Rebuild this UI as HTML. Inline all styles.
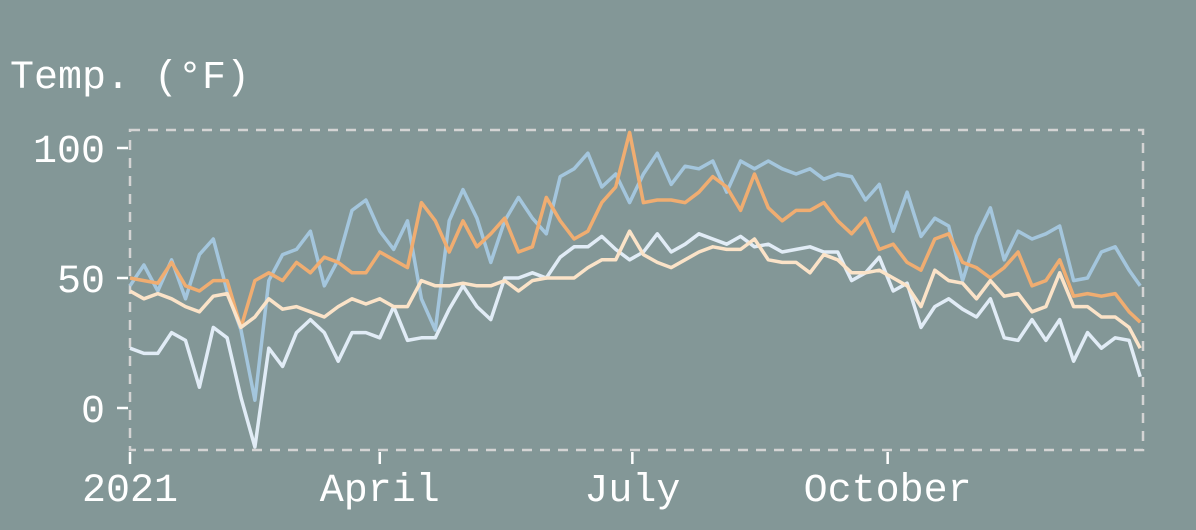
<!DOCTYPE html>
<html><head><meta charset="utf-8"><style>
body{margin:0;background:#839797;width:1196px;height:530px;overflow:hidden}
svg{display:block}
text{font-family:"Liberation Mono","DejaVu Sans Mono",monospace;fill:#fff}
</style></head><body>
<svg id="chart" width="1196" height="530" viewBox="0 0 1196 530"></svg>
<script>
const days=[0,5,10,15,20,25,30,35,40,45,50,55,60,65,70,75,80,85,90,95,100,105,110,115,120,125,130,135,140,145,150,155,160,165,170,175,180,185,190,195,200,205,210,215,220,225,230,235,240,245,250,255,260,265,270,275,280,285,290,295,300,305,310,315,320,325,330,335,340,345,350,355,360,364];
const highValues=[47,55,45,57,42,59,65,45,30,3,49,59,61,68,47,57,76,80,68,61,72,42,30,72,84,73,56,72,81,73,67,89,92,98,85,90,79,90,98,86,93,92,95,83,95,92,95,92,90,92,88,90,89,80,86,68,83,66,73,70,49,66,77,57,68,65,67,70,49,50,60,62,53,47];
const orangeValues=[50,49,48,56,47,45,49,49,31,49,52,49,56,52,58,56,52,52,60,57,54,79,72,60,72,62,67,73,60,62,81,72,65,68,79,85,106,79,80,80,79,83,89,85,76,90,77,72,76,76,79,72,67,73,61,63,56,53,65,67,56,54,50,54,60,47,49,57,43,44,43,44,37,33];
const creamValues=[45,42,44,42,39,37,43,44,31,35,42,38,39,37,35,39,42,40,42,39,39,49,47,47,48,47,47,49,45,49,50,50,50,54,57,57,68,59,56,54,57,60,62,61,61,65,57,56,56,52,59,57,52,52,53,50,47,39,53,49,48,42,49,43,44,37,39,52,39,39,35,35,31,23];
const lowValues=[23,21,21,29,26,8,31,27,4,-15,23,16,29,34,29,18,29,29,27,39,26,27,27,38,47,39,34,50,50,52,50,58,62,62,66,61,57,60,67,60,63,67,65,63,66,62,63,60,61,62,60,60,49,52,58,45,48,31,39,42,38,35,42,27,26,34,26,34,18,29,23,27,26,12];
const yTicks=[0,50,100];
const xTickDays=[0,90,181,273];
const xTickLabels=["2021","April","July","October"];

const svg=document.getElementById('chart');
const NS='http://www.w3.org/2000/svg';
const X0=130,X1=1143,Y0=130,Y1=450;
const x=d=>X0+d*(X1-X0)/365;
const y=v=>408-v*2.6;
function mk(t,a){const e=document.createElementNS(NS,t);for(const k in a)e.setAttribute(k,a[k]);svg.appendChild(e);return e;}

const frame=mk('rect',{x:X0,y:Y0,width:X1-X0,height:Y1-Y0,fill:'none',stroke:'#d4d4d4','stroke-width':2.5,'stroke-dasharray':'10 8'});



const title=mk('text',{x:10,y:88,'font-size':40});
title.textContent='Temp. (°F)';



yTicks.forEach(v=>{
  const t=mk('line',{x1:117,x2:128,y1:y(v),y2:y(v),stroke:'#fff','stroke-width':2.5});
  
  
  const l=mk('text',{x:105,y:y(v)+14,'font-size':40,'text-anchor':'end'});
  l.textContent=v;
  
  
});
xTickDays.forEach((d,i)=>{
  const t=mk('line',{x1:x(d),x2:x(d),y1:452,y2:464,stroke:'#fff','stroke-width':2.5});
  
  
  const l=mk('text',{x:x(d),y:501,'font-size':40,'text-anchor':'middle'});
  l.textContent=xTickLabels[i];
  
  
});

const series=[[highValues,'#a4c6dd','high-temp-line'],[orangeValues,'#f0ad71','orange-temp-line'],[lowValues,'#e1ecf6','low-temp-line'],[creamValues,'#fbe3c8','cream-temp-line']];
series.forEach(([vals,col,name])=>{
  const p=mk('path',{d:vals.map((v,i)=>(i?'L':'M')+x(days[i]).toFixed(1)+','+y(v).toFixed(1)).join(''),fill:'none',stroke:col,'stroke-width':3.5,'stroke-linejoin':'round'});
  
  
});
</script>
</body></html>
